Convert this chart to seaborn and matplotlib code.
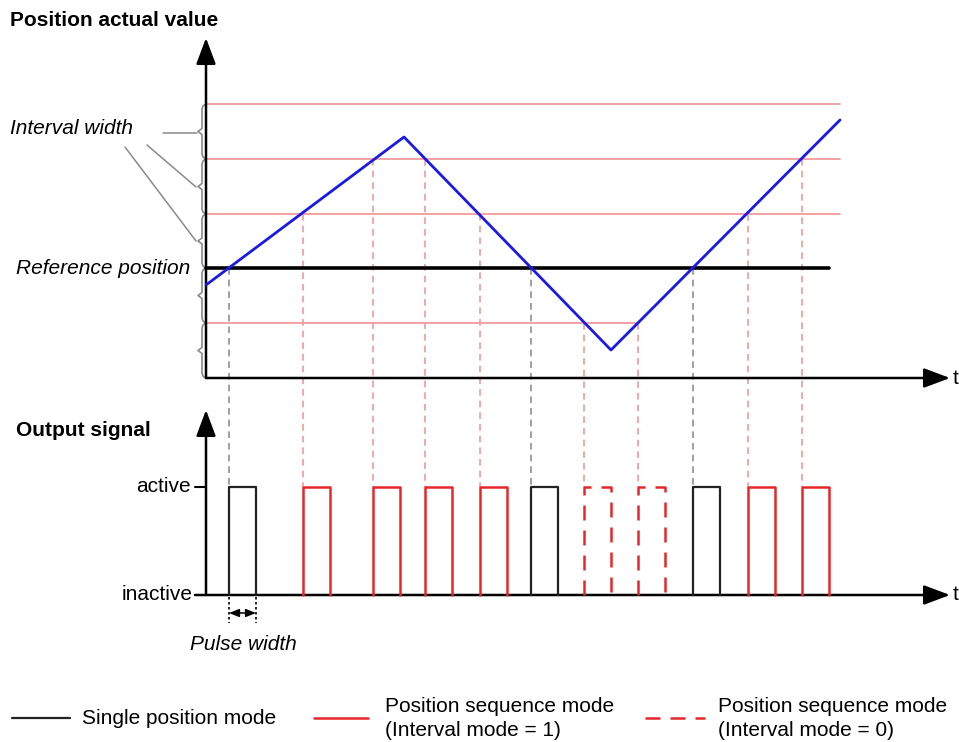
import numpy as np
import pandas as pd
import matplotlib.pyplot as plt
import seaborn as sns

# diagram is drawn in pixel space of the reference (x right, y down)
pos_t = [206, 404, 611, 840]          # vertices of the position curve
pos_y = [285, 137, 350, 120]
interval_levels = [104, 159, 214, 323]
interval_ends = [840, 840, 840, 638]
ref_level = 268

# output pulses: start time, mode and the level crossing that triggers it
pulse_starts = [229, 303, 373, 425, 480, 531, 584, 638, 693, 748, 802]
pulse_modes = ["single", "seq1", "seq1", "seq1", "seq1", "single",
               "seq0", "seq0", "single", "seq1", "seq1"]
pulse_levels = [268, 214, 159, 159, 214, 268, 323, 323, 268, 214, 159]
pulse_w = 27

brace_spans = [(104, 159), (159, 214), (214, 268), (268, 323), (323, 378)]

sns.set_theme(style="white")
plt.rcParams["font.family"] = ["Liberation Sans", "DejaVu Sans"]
plt.rcParams["text.color"] = "black"

fig = plt.figure(figsize=(9.59, 7.42), dpi=100)
ax = fig.add_axes([0, 0, 1, 1])
ax.set_xlim(0, 959)
ax.set_ylim(742, 0)
ax.axis("off")

RED = "#e8262a"
LRED = "#f29a9a"
FS = 15

# axes with arrows
x0, y_axis1, y_axis2 = 206, 378, 595
y_active = 487
arrow = dict(arrowstyle="-|>,head_length=0.8,head_width=0.3", lw=1.8,
             color="black", mutation_scale=20, shrinkA=0, shrinkB=0)
ax.annotate("", xy=(x0, 38), xytext=(x0, y_axis1), arrowprops=arrow)
ax.annotate("", xy=(950, y_axis1), xytext=(x0, y_axis1), arrowprops=arrow)
ax.annotate("", xy=(x0, 410), xytext=(x0, y_axis2), arrowprops=arrow)
ax.annotate("", xy=(950, y_axis2), xytext=(195, y_axis2), arrowprops=arrow)
ax.plot([195, x0], [y_active, y_active], color="black", lw=1.5)
ax.text(953, y_axis1, "t", fontsize=FS, va="center", ha="left")
ax.text(953, y_axis2, "t", fontsize=FS, va="center", ha="left")

# interval lines
for lv, xe in zip(interval_levels, interval_ends):
    ax.plot([x0, xe], [lv, lv], color=LRED, lw=1.3, zorder=1)
ax.plot([x0, 829], [ref_level, ref_level], color="black", lw=2.6, zorder=3)

# position curve
df = pd.DataFrame({"t": pos_t, "y": pos_y})
sns.lineplot(data=df, x="t", y="y", sort=False, color="#1a1ae6", lw=2,
             ax=ax, zorder=4)

# connectors and pulses
for xs, mode, lv in zip(pulse_starts, pulse_modes, pulse_levels):
    cc = "#909090" if mode == "single" else LRED
    ax.plot([xs, xs], [lv, y_active], color=cc, lw=1.2,
            ls=(0, (4, 3)), zorder=1)
    px = [xs, xs, xs + pulse_w, xs + pulse_w]
    py = [y_axis2, y_active, y_active, y_axis2]
    if mode == "single":
        ax.plot(px, py, color="#222222", lw=1.6, zorder=3)
    elif mode == "seq1":
        ax.plot(px, py, color=RED, lw=1.8, zorder=3)
    else:
        ax.plot(px, py, color=RED, lw=1.8, ls=(0, (6, 4)), zorder=3)


# braces
def brace(y0, y1, x=202, d=4):
    m = (y0 + y1) / 2
    bx = [x + 3, x + 1, x, x, x - d, x, x, x + 1, x + 3]
    by = [y0 + 0.5, y0 + 2, y0 + 5, m - 3, m, m + 3, y1 - 5, y1 - 2, y1 - 0.5]
    return bx, by


for a, b in brace_spans:
    bx, by = brace(a, b)
    ax.plot(bx, by, color="#8a8a8a", lw=1.2, zorder=2)

# leader lines to braces
for (sx, sy), (ex, ey) in [((163, 133), (197, 133)),
                           ((147, 145), (196, 187)),
                           ((125, 147), (196, 241))]:
    ax.plot([sx, ex], [sy, ey], color="#8a8a8a", lw=1.1)

# pulse width marker
for xx in [pulse_starts[0], pulse_starts[0] + pulse_w]:
    ax.plot([xx, xx], [597, 623], color="black", lw=1.2, ls=(0, (1.5, 1.5)))
ax.annotate("", xy=(pulse_starts[0], 613),
            xytext=(pulse_starts[0] + pulse_w, 613),
            arrowprops=dict(arrowstyle="<|-|>,head_length=0.5,head_width=0.2",
                            lw=1.1, color="black", mutation_scale=12,
                            shrinkA=0, shrinkB=0))

# texts
ax.text(10, 20, "Position actual value", fontsize=FS, fontweight="bold",
        va="center", ha="left")
ax.text(10, 128, "Interval width", fontsize=FS, style="italic",
        va="center", ha="left")
ax.text(16, 268, "Reference position", fontsize=FS, style="italic",
        va="center", ha="left")
ax.text(16, 431, "Output signal", fontsize=FS, fontweight="bold",
        va="center", ha="left")
ax.text(191, y_active, "active", fontsize=FS, va="center", ha="right")
ax.text(193, y_axis2, "inactive", fontsize=FS, va="center", ha="right")
ax.text(243, 645, "Pulse width", fontsize=FS, style="italic",
        va="center", ha="center")

# legend
ax.plot([12, 70], [718, 718], color="#222222", lw=1.6)
ax.text(82, 718, "Single position mode", fontsize=FS, va="center")
ax.plot([314, 368], [718, 718], color=RED, lw=1.8)
ax.text(385, 706, "Position sequence mode", fontsize=FS, va="center")
ax.text(385, 731, "(Interval mode = 1)", fontsize=FS, va="center")
ax.plot([645, 705], [718, 718], color=RED, lw=1.8, ls=(0, (6, 4)))
ax.text(718, 706, "Position sequence mode", fontsize=FS, va="center")
ax.text(718, 731, "(Interval mode = 0)", fontsize=FS, va="center")

fig.savefig("out.png", dpi=100)
